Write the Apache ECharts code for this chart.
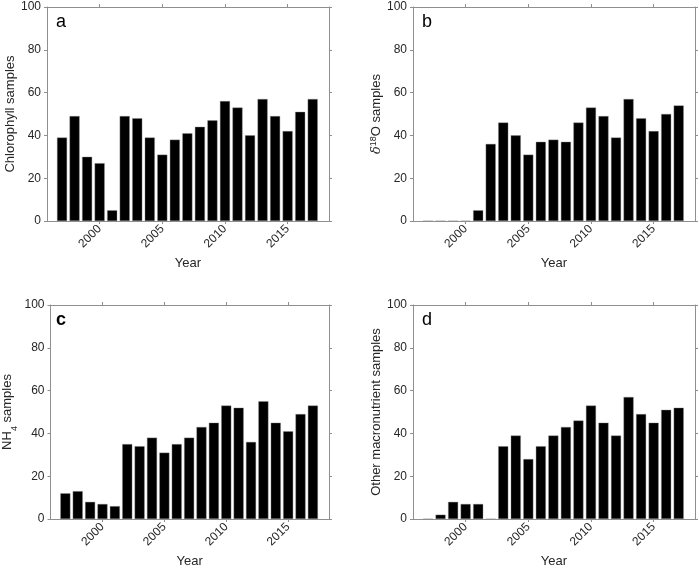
<!DOCTYPE html>
<html>
<head>
<meta charset="utf-8">
<script src="https://cdn.jsdelivr.net/npm/echarts@6/dist/echarts.min.js"></script>
<style>
html,body{margin:0;padding:0;background:#fff;}
#c{width:700px;height:569px;}
</style>
</head>
<body>
<div id="c"></div>
<script>
const years = [1997,1998,1999,2000,2001,2002,2003,2004,2005,2006,2007,2008,2009,2010,2011,2012,2013,2014,2015,2016,2017];
const chlorophyll = [39,49,30,27,5,49,48,39,31,38,41,44,47,56,53,40,57,49,42,51,57];
const delta18O = [0,0,0,0,5,36,46,40,31,37,38,37,46,53,49,39,57,48,42,50,54];
const nh4 = [12,13,8,7,6,35,34,38,31,35,38,43,45,53,52,36,55,45,41,49,53];
const otherMacro = [0,2,8,7,7,0,34,39,28,34,39,43,46,53,45,39,57,49,45,51,52];
const xTicks = [2000,2005,2010,2015];
const yTicks = [0,20,40,60,80,100];
const panelLetters = ['a','b','c','d'];
const yNames = ['Chlorophyll samples','{d|δ}{s|18}{n|O samples}','{n|NH}{b|4}{n| samples}','Other macronutrient samples'];
const seriesData = [chlorophyll, delta18O, nh4, otherMacro];

const axisColor = '#8f8f8f';
const textColor = '#262626';
const font = 'Liberation Sans, Arial, Helvetica, sans-serif';

const grids = [
  {left:47, top:7, width:282, height:214},
  {left:413, top:7, width:282, height:214},
  {left:47, top:305, width:282, height:214},
  {left:413, top:305, width:282, height:214}
];
const nameGaps = [28, 27, 31, 27];
const letterPos = [[56,13],[422,13],[56,311],[422,311]];

const xAxes = [], yAxes = [], series = [], titles = [];
for (let i = 0; i < 4; i++) {
  xAxes.push({
    type:'value', gridIndex:i, min:1995.8, max:2018.3, position:'bottom',
    name:'Year', nameLocation:'middle', nameGap:36,
    nameTextStyle:{color:textColor, fontSize:13, fontFamily:font},
    axisLine:{show:true, onZero:false, lineStyle:{color:axisColor, width:1}},
    axisTick:{show:true, inside:false, length:3, customValues:xTicks, lineStyle:{color:axisColor}},
    axisLabel:{show:true, customValues:xTicks, rotate:45, margin:6, color:textColor, fontSize:12, fontFamily:font,
      formatter: v => String(Math.round(v))},
    splitLine:{show:false}
  });
  xAxes.push({
    type:'value', gridIndex:i, min:1995.8, max:2018.3, position:'top',
    axisLine:{show:true, onZero:false, lineStyle:{color:axisColor, width:1}},
    axisTick:{show:true, inside:false, length:3, customValues:xTicks, lineStyle:{color:axisColor}},
    axisLabel:{show:false},
    splitLine:{show:false}
  });
  yAxes.push({
    type:'value', gridIndex:i, min:0, max:100, interval:20, position:'left',
    name:yNames[i], nameLocation:'middle', nameGap:nameGaps[i], nameRotate:90,
    nameTextStyle:{color:textColor, fontSize:13, fontFamily:font,
      rich:{
        n:{fontSize:13, color:textColor, fontFamily:font, lineHeight:16},
        d:{fontSize:13, color:textColor, fontFamily:'DejaVu Serif, serif', fontStyle:'italic', lineHeight:16},
        s:{fontSize:9, color:textColor, fontFamily:font, verticalAlign:'top', lineHeight:10},
        b:{fontSize:9, color:textColor, fontFamily:font, verticalAlign:'bottom', lineHeight:24}
      }},
    axisLine:{show:true, onZero:false, lineStyle:{color:axisColor, width:1}},
    axisTick:{show:true, inside:false, length:3, lineStyle:{color:axisColor}},
    axisLabel:{show:true, margin:6, color:textColor, fontSize:12, fontFamily:font},
    splitLine:{show:false}
  });
  yAxes.push({
    type:'value', gridIndex:i, min:0, max:100, interval:20, position:'right',
    axisLine:{show:true, onZero:false, lineStyle:{color:axisColor, width:1}},
    axisTick:{show:true, inside:false, length:3, lineStyle:{color:axisColor}},
    axisLabel:{show:false},
    splitLine:{show:false}
  });
  series.push({
    type:'bar', xAxisIndex:i*2, yAxisIndex:i*2,
    data: years.map((y, k) => [y, seriesData[i][k]]),
    barWidth:10,
    itemStyle:{color:'#000000', borderColor:'#8a8a8a', borderWidth:0.4},
    silent:true, animation:false
  });
  titles.push({
    text:panelLetters[i], left:letterPos[i][0], top:letterPos[i][1], padding:0,
    textStyle:{color:'#000', fontSize:18, fontWeight: i===2 ? 'bold' : 'normal', fontFamily:font}
  });
}

const chart = echarts.init(document.getElementById('c'), null, {renderer:'canvas'});
chart.setOption({
  animation:false,
  backgroundColor:'#ffffff',
  title:titles,
  grid:grids,
  xAxis:xAxes,
  yAxis:yAxes,
  series:series
});
</script>
</body>
</html>
